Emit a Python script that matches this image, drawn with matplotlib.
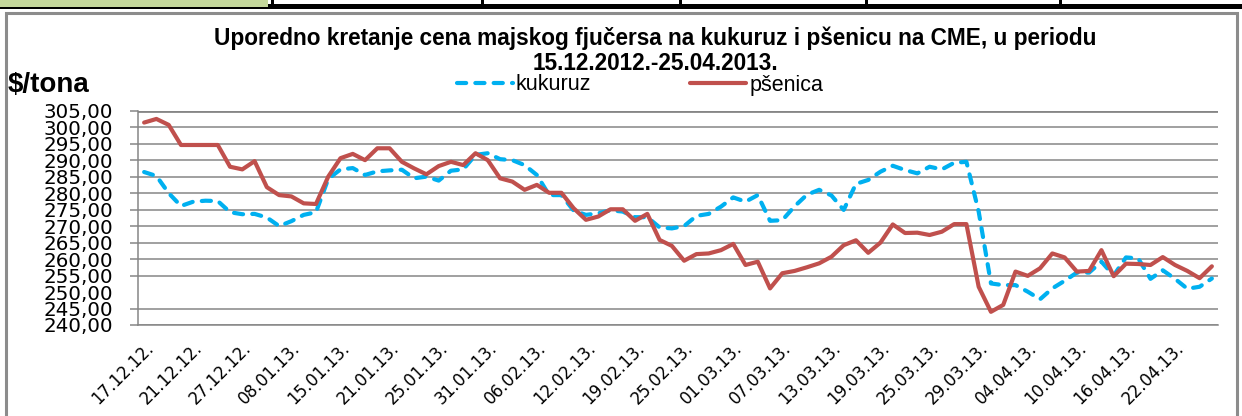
import matplotlib
matplotlib.use("Agg")
import matplotlib.pyplot as plt
from matplotlib.patches import Rectangle
import numpy as np

# ---------------- data ----------------
title_line1 = "Uporedno kretanje cena majskog fjučersa na kukuruz i pšenicu na CME, u periodu"
title_line2 = "15.12.2012.-25.04.2013."
y_label = "$/tona"
series_names = ["kukuruz", "pšenica"]

tick_labels = ["17.12.12.", "21.12.12.", "27.12.12.", "08.01.13.", "15.01.13.", "21.01.13.",
               "25.01.13.", "31.01.13.", "06.02.13.", "12.02.13.", "19.02.13.", "25.02.13.",
               "01.03.13.", "07.03.13.", "13.03.13.", "19.03.13.", "25.03.13.", "29.03.13.",
               "04.04.13.", "10.04.13.", "16.04.13.", "22.04.13."]
label_every = 4

kukuruz = [286.4, 285.2, 280.0, 276.1, 277.4, 277.7, 277.6, 274.2, 273.6, 273.7,
           272.6, 270.0, 271.5, 273.4, 274.2, 284.3, 287.2, 287.6, 285.5, 286.6,
           286.9, 287.1, 284.5, 285.0, 283.8, 286.8, 287.2, 291.6, 292.1, 290.3,
           290.0, 288.5, 285.5, 279.4, 279.4, 274.7, 273.4, 273.9, 274.8, 274.4,
           272.7, 272.7, 269.6, 269.3, 270.0, 273.1, 273.7, 275.9, 278.7, 277.4,
           279.4, 271.6, 271.8, 276.0, 279.5, 281.0, 279.3, 274.9, 282.8, 284.0,
           286.5, 288.3, 287.0, 286.0, 288.0, 287.2, 289.2, 289.5, 274.4, 252.6,
           252.1, 252.1, 250.1, 247.8, 251.1, 253.4, 255.9, 255.9, 259.2, 255.0,
           260.5, 260.2, 254.0, 256.6, 254.0, 251.0, 251.6, 254.1]

psenica = [301.4, 302.5, 300.7, 294.6, 294.6, 294.6, 294.6, 288.0, 287.2, 289.7,
           281.8, 279.4, 279.0, 276.9, 276.7, 285.0, 290.6, 291.9, 290.0, 293.6,
           293.6, 289.5, 287.5, 285.7, 288.2, 289.5, 288.5, 292.1, 290.0, 284.5,
           283.5, 281.0, 282.5, 280.1, 280.1, 275.4, 271.9, 272.9, 275.1, 275.1,
           271.6, 273.7, 265.8, 264.0, 259.5, 261.5, 261.7, 262.7, 264.6, 258.2,
           259.2, 251.1, 255.7, 256.4, 257.5, 258.7, 260.7, 264.2, 265.7, 261.9,
           265.0, 270.5, 267.9, 268.0, 267.3, 268.3, 270.6, 270.6, 251.6, 244.0,
           246.1, 256.2, 254.9, 257.2, 261.7, 260.5, 256.2, 256.4, 262.7, 254.8,
           258.6, 258.5, 258.2, 260.6, 258.2, 256.4, 254.2, 257.8]

y_ticks = [240, 245, 250, 255, 260, 265, 270, 275, 280, 285, 290, 295, 300, 305]

# ---------------- figure ----------------
W, H = 1242, 416
fig = plt.figure(figsize=(W / 100, H / 100), dpi=100)
fig.patch.set_facecolor("white")

def fx(px):
    return px / W

def fy(py):
    return 1 - py / H

def frect(x0, y0, x1, y1, **kw):
    fig.patches.append(Rectangle((fx(x0), fy(y1)), fx(x1 - x0), (y1 - y0) / H,
                                 transform=fig.transFigure, **kw))

# spreadsheet strip at top
frect(268, 4, 1242, 9, facecolor="black", edgecolor="none", zorder=0)
for cx in [271, 481, 679, 865, 1059]:
    frect(cx, 0, cx + 3, 9, facecolor="black", edgecolor="none", zorder=0)
frect(0, 0, 268, 8, facecolor="#C4D79B", edgecolor="none", zorder=1)
frect(0, 7, 268, 9, facecolor="black", edgecolor="none", zorder=1)
# chart border
frect(6, 13, 1237, 420, facecolor="none", edgecolor="#8c8c8c", linewidth=2.2, zorder=1)

ax = fig.add_axes([fx(138), fy(325), fx(1218 - 138), (325 - 110.7) / H])

x = np.arange(len(kukuruz))
ax.plot(x, kukuruz, color="#00B0F0", linewidth=3.0, linestyle=(0, (2.2, 2.2)),
        dash_capstyle="round", solid_capstyle="round", label=series_names[0], zorder=3)
ax.plot(x, psenica, color="#C0504D", linewidth=3.0, solid_capstyle="round",
        solid_joinstyle="round", label=series_names[1], zorder=4)

ax.set_xlim(-0.5, len(kukuruz) - 0.5)
ax.set_ylim(240, 305)
ax.set_yticks(y_ticks)
ax.set_yticklabels([f"{v:.2f}".replace(".", ",") for v in y_ticks],
                   fontfamily="DejaVu Sans", fontsize=14.3)
ax.tick_params(axis="y", length=6, width=1.1, color="#868686", pad=12)

tick_pos = x[::label_every][:len(tick_labels)]
ax.set_xticks(tick_pos)
ax.set_xticklabels(tick_labels, rotation=45, ha="right", va="top",
                   rotation_mode="anchor", fontfamily="DejaVu Sans", fontsize=12)
ax.tick_params(axis="x", length=0, pad=10)

ax.grid(axis="y", color="#868686", linewidth=1.1)
ax.set_axisbelow(True)
# the 250 gridline / tick is not drawn in the reference
for t in ax.yaxis.get_major_ticks():
    if abs(t.get_loc() - 250) < 1e-6:
        t.gridline.set_visible(False)
        t.tick1line.set_visible(False)

for s in ["top", "right"]:
    ax.spines[s].set_visible(False)
ax.spines["left"].set_color("#868686")
ax.spines["left"].set_linewidth(1.1)
ax.spines["bottom"].set_color("#868686")
ax.spines["bottom"].set_linewidth(1.1)
ax.axhline(305, color="#868686", linewidth=2.0, zorder=1)

# titles and labels
title_font = ["Liberation Sans Narrow", "Liberation Sans", "DejaVu Sans"]
fig.text(fx(655), fy(38), title_line1, ha="center", va="center",
         fontsize=16.3, fontweight="bold", family=title_font)
fig.text(fx(655), fy(63), title_line2, ha="center", va="center",
         fontsize=16.3, fontweight="bold", family=title_font)
fig.text(fx(8), fy(85), y_label, ha="left", va="center",
         fontsize=20, fontweight="bold", family=title_font)

leg = fig.legend(loc="center", bbox_to_anchor=(fx(640), fy(85)), ncol=2, frameon=False,
                 prop={"family": title_font, "size": 15.5}, handlelength=2.6,
                 handletextpad=0.15, columnspacing=4.6, borderaxespad=0)

fig.savefig("out.png", dpi=100)
